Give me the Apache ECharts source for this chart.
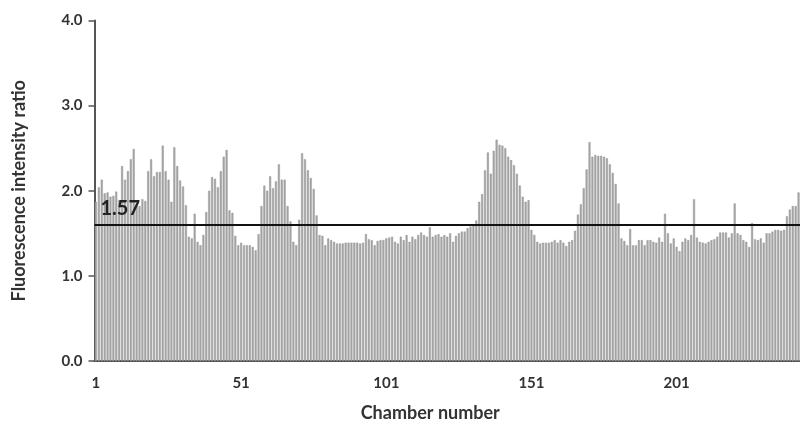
<!DOCTYPE html>
<html><head><meta charset="utf-8">
<script src="https://cdn.jsdelivr.net/npm/echarts@6/dist/echarts.min.js"></script>
<style>html,body{margin:0;padding:0;background:#fff}#c{width:800px;height:428px}</style>
</head><body><div id="c"></div>
<script>
const ratios = [
1.87,2.04,2.13,1.97,1.98,1.93,1.94,1.99,1.89,2.29,2.13,2.23,2.37,2.49,
1.85,1.82,1.90,1.88,2.23,2.37,
2.17,2.22,2.22,2.53,2.23,2.13,1.87,2.51,2.29,2.12,2.05,1.83,1.46,1.44,1.73,1.40,1.36,1.48,1.75,2.00,2.16,2.14,2.04,
2.23,2.40,2.48,1.77,1.74,1.47,1.36,1.39,1.36,1.36,1.36,1.34,1.30,1.49,1.82,2.06,2.00,2.17,2.03,2.11,2.31,2.13,
2.13,1.82,1.64,1.40,1.36,1.66,2.44,2.37,2.24,2.15,2.02,1.71,1.48,1.47,1.36,1.44,1.42,1.40,1.38,1.38,1.38,1.39,1.39,
1.39,1.39,1.39,1.38,1.39,1.49,1.43,1.42,1.36,1.41,1.42,1.42,1.44,1.45,1.46,1.40,1.38,1.46,1.42,1.48,1.40,1.46,
1.43,1.48,1.51,1.48,1.46,1.57,1.46,1.48,1.49,1.46,1.48,1.46,1.50,1.40,1.47,1.50,1.52,1.52,1.56,1.58,1.60,1.65,
1.87,1.96,2.24,2.45,2.20,2.47,2.60,2.54,2.53,2.50,2.40,2.36,2.30,2.20,2.06,1.93,1.87,1.89,1.54,1.48,1.40,1.38,
1.39,1.39,1.39,1.40,1.42,1.39,1.42,1.39,1.35,1.40,1.42,1.53,1.72,1.84,2.03,2.25,2.57,2.40,2.42,2.41,2.41,2.40,
2.38,2.31,2.21,2.08,1.85,1.44,1.41,1.36,1.55,1.36,1.36,1.42,1.42,1.36,1.42,1.42,1.40,1.39,1.45,1.40,1.73,1.50,1.38,
1.44,1.34,1.29,1.40,1.44,1.42,1.48,1.90,1.45,1.40,1.39,1.38,1.40,1.42,1.43,1.46,1.51,1.51,1.51,1.45,1.50,1.85,1.50,
1.48,1.42,1.40,1.34,1.62,1.43,1.42,1.44,1.39,1.50,1.50,1.52,1.54,1.54,1.53,1.54,1.70,1.78,1.82,1.82,1.98
];
const chambers = ratios.map((_, i) => String(i + 1));
const yTicks = [0, 1, 2, 3, 4];
const thresholdValue = 1.6;
const thresholdLabel = '1.57';
const xTitle = 'Chamber number';
const yTitle = 'Fluorescence intensity ratio';

const font = 'Lato, "Open Sans", sans-serif';
const chart = echarts.init(document.getElementById('c'), null, {renderer: 'canvas'});
chart.setOption({
  animation: false,
  backgroundColor: '#fff',
  grid: {left: 94.5, right: 0, top: 20.5, bottom: 67, containLabel: false, outerBoundsMode: 'none'},
  xAxis: {
    type: 'category',
    data: chambers,
    name: xTitle,
    nameLocation: 'middle',
    nameGap: 43,
    nameTextStyle: {fontFamily: font, fontWeight: 'bold', fontSize: 18, color: '#333', padding: [0, 34, 0, 0]},
    axisLine: {lineStyle: {color: '#555', width: 2}},
    axisTick: {show: false},
    axisLabel: {interval: 49, fontFamily: font, fontWeight: 'bold', fontSize: 15, color: '#333', margin: 15}
  },
  yAxis: {
    type: 'value',
    min: yTicks[0], max: yTicks[yTicks.length - 1], interval: 1,
    name: yTitle,
    nameLocation: 'middle',
    nameGap: 66,
    nameTextStyle: {fontFamily: font, fontWeight: 'bold', fontSize: 18, color: '#333'},
    axisLine: {show: true, lineStyle: {color: '#555', width: 2}},
    axisTick: {show: true, length: 6, lineStyle: {color: '#555', width: 1.5}},
    splitLine: {show: false},
    axisLabel: {formatter: v => v.toFixed(1), fontFamily: font, fontWeight: 'bold', fontSize: 15, color: '#333', margin: 12}
  },
  series: [{
    type: 'bar',
    data: ratios,
    barWidth: 2,
    itemStyle: {color: '#a8a8a8', borderColor: '#8a8a8a', borderWidth: 0.4},
    markLine: {
      silent: true,
      symbol: 'none',
      lineStyle: {color: '#111', width: 2, type: 'solid'},
      label: {position: 'insideStartTop', formatter: thresholdLabel, fontFamily: font, fontWeight: 'bold', fontSize: 20, color: '#222', distance: [6, 6]},
      data: [{yAxis: thresholdValue}]
    }
  }]
});
</script></body></html>
